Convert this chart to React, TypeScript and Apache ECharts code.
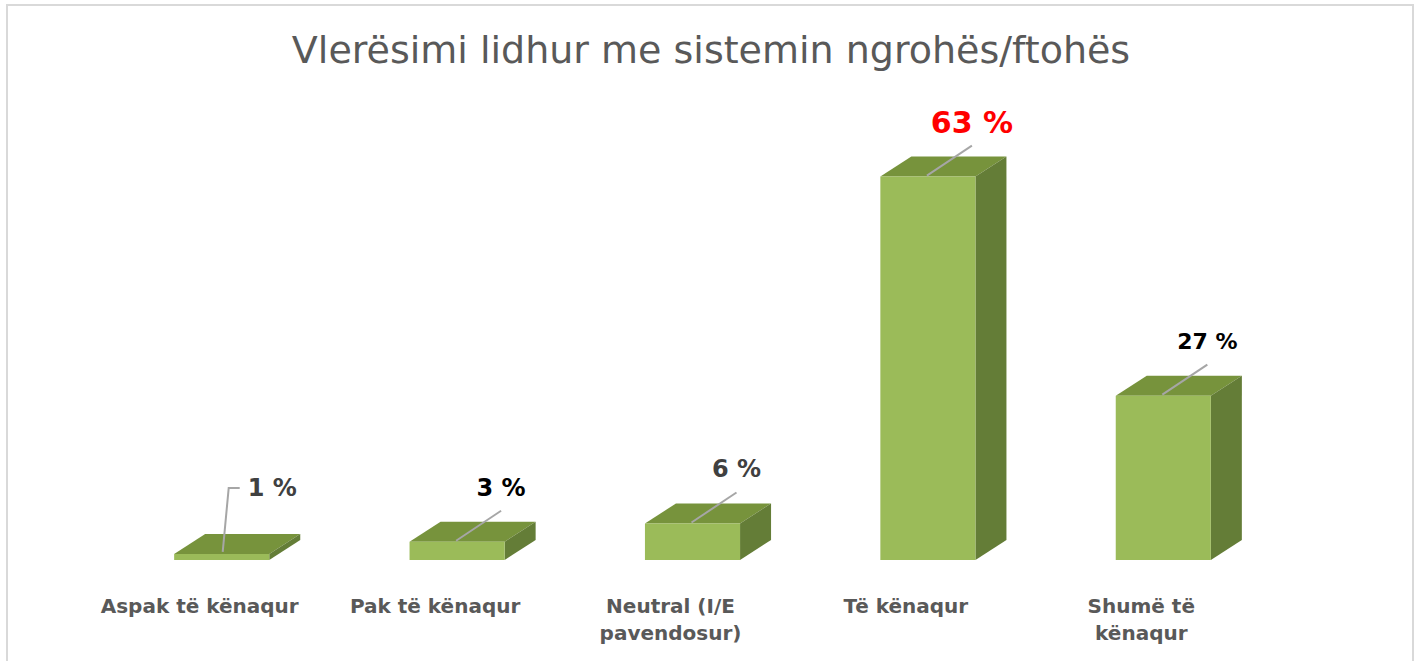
import React, { useEffect, useRef } from "react";
import * as echarts from "echarts";

const categories = ["Aspak të kënaqur", "Pak të kënaqur", "Neutral (I/E\npavendosur)", "Të kënaqur", "Shumë të\nkënaqur"];
const values = [1, 3, 6, 63, 27];
const labelTexts = ["1 %", "3 %", "6 %", "63 %", "27 %"];
const labelColors = ["#404040", "#000000", "#404040", "#FF0000", "#000000"];
const labelSizes = [24, 24, 24, 30, 22];

const FONT = "'DejaVu Sans', 'Open Sans', sans-serif";

export default function App() {
  const ref = useRef<HTMLDivElement>(null);
  useEffect(() => {
    if (!ref.current) return;
    const chart = echarts.init(ref.current, null, { renderer: "svg" });
    const option: any = {
      animation: false,
      backgroundColor: "#ffffff",
      title: {
        text: "Vlerësimi lidhur me sistemin ngrohës/ftohës",
        left: "center",
        top: 26,
        textStyle: { fontFamily: FONT, fontSize: 38, fontWeight: "normal", color: "#595959" },
      },
      graphic: [
        {
          type: "rect",
          shape: { x: 7, y: 5, width: 1406, height: 670 },
          style: { fill: "none", stroke: "#D9D9D9", lineWidth: 2 },
          silent: true,
        },
      ],
      grid: { left: 104, right: 141, top: 134, bottom: 101 },
      xAxis: {
        type: "category",
        data: categories,
        axisLine: { show: false },
        axisTick: { show: false },
        splitLine: { show: false },
        axisLabel: {
          color: "#595959",
          fontFamily: FONT,
          fontWeight: "bold",
          fontSize: 20,
          lineHeight: 27,
          margin: 32,
          padding: [0, 44, 0, 0],
          interval: 0,
        },
      },
      yAxis: { type: "value", min: 0, max: 70, show: false, splitLine: { show: false } },
      series: [
        {
          type: "custom",
          clip: false,
          data: values.map((v, i) => [i, v]),
          encode: { x: 0, y: 1 },
          renderItem: (params: any, api: any) => {
            const i = api.value(0);
            const v = api.value(1);
            const top = api.coord([i, v]);
            const base = api.coord([i, 0]);
            const bw = api.size([1, 0])[0] * 0.404;
            const cx = top[0];
            const x0 = cx - bw / 2;
            const x1 = cx + bw / 2;
            const yT = top[1];
            const yB = base[1];
            const dx = 31;
            const dy = -20;
            const children: any[] = [
              {
                type: "polygon",
                shape: { points: [[x0, yT], [x0 + dx, yT + dy], [x1 + dx, yT + dy], [x1, yT]] },
                style: { fill: "#77933C" },
              },
              {
                type: "polygon",
                shape: { points: [[x1, yT], [x1 + dx, yT + dy], [x1 + dx, yB + dy], [x1, yB]] },
                style: { fill: "#647D37" },
              },
              {
                type: "rect",
                shape: { x: x0, y: yT, width: bw, height: yB - yT },
                style: { fill: "#9BBB59" },
              },
            ];
            const idx = params.dataIndex;
            if (idx === 0) {
              const ly = yT - 66;
              children.push({
                type: "polyline",
                shape: { points: [[cx + 1, yT - 2], [cx + 7, ly], [cx + 18, ly]] },
                style: { stroke: "#A6A6A6", lineWidth: 2, fill: "none" },
              });
              children.push({
                type: "text",
                style: {
                  text: labelTexts[idx],
                  x: cx + 26,
                  y: ly,
                  align: "left",
                  verticalAlign: "middle",
                  fill: labelColors[idx],
                  fontSize: labelSizes[idx],
                  fontWeight: "bold",
                  fontFamily: FONT,
                },
              });
            } else {
              const ex = cx + 44;
              const ey = yT - 31;
              children.push({
                type: "line",
                shape: { x1: cx - 1, y1: yT - 1, x2: ex, y2: ey },
                style: { stroke: "#A6A6A6", lineWidth: 2 },
              });
              children.push({
                type: "text",
                style: {
                  text: labelTexts[idx],
                  x: ex,
                  y: ey - 23,
                  align: "center",
                  verticalAlign: "middle",
                  fill: labelColors[idx],
                  fontSize: labelSizes[idx],
                  fontWeight: "bold",
                  fontFamily: FONT,
                },
              });
            }
            return { type: "group", children };
          },
        },
      ],
    };
    chart.setOption(option);
    return () => chart.dispose();
  }, []);
  return (
    <div
      ref={ref}
      style={{ position: "absolute", left: 0, top: 0, width: 1422, height: 661 }}
    />
  );
}
